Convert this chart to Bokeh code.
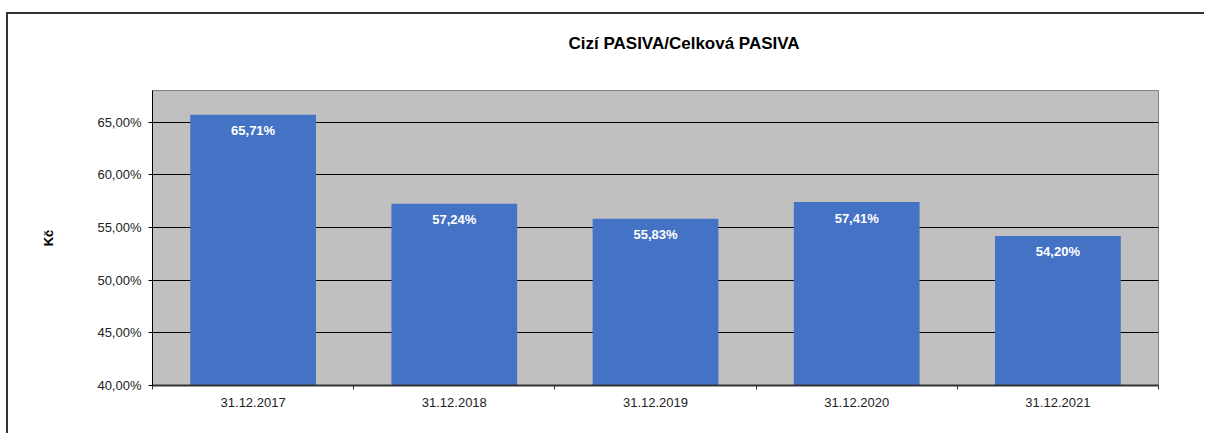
from bokeh.plotting import figure
from bokeh.models import Range1d, FixedTicker, CustomJSTickFormatter, ColumnDataSource, Title
from bokeh.core.properties import value
from bokeh.embed import file_html
from bokeh.resources import INLINE

categories = ["31.12.2017", "31.12.2018", "31.12.2019", "31.12.2020", "31.12.2021"]
values = [65.71, 57.24, 55.83, 57.41, 54.20]
y_ticks = [40, 45, 50, 55, 60, 65]
y_min, y_max = 40, 68
title_text = "Cizí PASIVA/Celková PASIVA"
y_label = "Kč"

xpos = [i + 0.5 for i in range(len(categories))]
labels = [f"{v:.2f}".replace(".", ",") + "%" for v in values]
src = ColumnDataSource(dict(x=xpos, top=values, label=labels, cat=categories))

FONT = "Liberation Sans"

p = figure(width=1198, height=421, output_backend="svg", toolbar_location=None,
           x_range=Range1d(0, len(categories)), y_range=Range1d(y_min, y_max),
           min_border_left=144, min_border_right=48, min_border_top=76, min_border_bottom=50,
           margin=(12, 0, 0, 6))
p.styles = {"border-top": "2px solid #333333", "border-left": "2px solid #333333"}

# main title (outermost panel above the plot area)
p.title.text = title_text
p.title.text_font = FONT
p.title.text_font_size = "17px"
p.title.text_font_style = "bold"
p.title.text_color = "#000000"
p.title.align = "left"
p.title.offset = 416
p.title.standoff = 10

# blank spacer panel between the title and the plot area
p.add_layout(Title(text=" ", text_font_size="10px", standoff=20), "above")

p.background_fill_color = "#C0C0C0"
p.border_fill_color = "white"
p.outline_line_color = "#808080"
p.outline_line_width = 1

p.vbar(x="x", top="top", bottom=y_min, width=0.625, source=src,
       fill_color="#4472C4", line_color=None)
p.text(x="x", y="top", text="label", source=src, y_offset=16,
       text_align="center", text_baseline="middle",
       text_color="white", text_font=value(FONT), text_font_size="13px",
       text_font_style="bold")

p.xgrid.visible = False
p.ygrid.ticker = FixedTicker(ticks=y_ticks[1:])
p.ygrid.grid_line_color = "#000000"
p.ygrid.grid_line_width = 1

# y axis
p.yaxis.ticker = FixedTicker(ticks=y_ticks)
p.yaxis.formatter = CustomJSTickFormatter(code="return tick.toFixed(2).replace('.', ',') + '%';")
p.yaxis.axis_line_color = "#000000"
p.yaxis.major_tick_line_color = "#000000"
p.yaxis.major_tick_out = 4
p.yaxis.major_tick_in = 0
p.yaxis.minor_tick_line_color = None
p.yaxis.major_label_standoff = 7
p.yaxis.major_label_text_font = FONT
p.yaxis.major_label_text_font_size = "13px"
p.yaxis.major_label_text_color = "#222222"
p.yaxis.axis_label = y_label
p.yaxis.axis_label_text_font = FONT
p.yaxis.axis_label_text_font_size = "13px"
p.yaxis.axis_label_text_font_style = "bold"
p.yaxis.axis_label_text_color = "#000000"
p.yaxis.axis_label_standoff = 38

# x axis: category labels at centres, boundary ticks between categories
p.xaxis.ticker = FixedTicker(ticks=xpos, minor_ticks=list(range(len(categories) + 1)))
p.xaxis.formatter = CustomJSTickFormatter(args=dict(cats=categories),
                                          code="return cats[Math.round(tick - 0.5)];")
p.xaxis.axis_line_color = "#333333"
p.xaxis.axis_line_width = 2
p.xaxis.major_tick_line_color = None
p.xaxis.major_tick_out = 0
p.xaxis.major_tick_in = 0
p.xaxis.minor_tick_line_color = "#333333"
p.xaxis.minor_tick_out = 4
p.xaxis.minor_tick_in = 0
p.xaxis.major_label_standoff = 8
p.xaxis.major_label_text_font = FONT
p.xaxis.major_label_text_font_size = "13px"
p.xaxis.major_label_text_color = "#222222"

open("out.html", "w").write(file_html(p, INLINE))
